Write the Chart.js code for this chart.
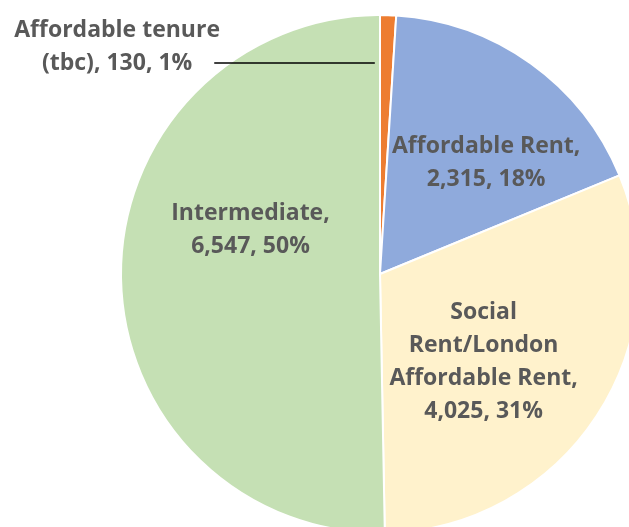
<!DOCTYPE html>
<html lang="en">
<head>
    <meta charset="UTF-8">
    <title>Tenure split</title>
    <script src="https://cdn.jsdelivr.net/npm/chart.js@4.4.0/dist/chart.umd.min.js"></script>
    <style>
        html, body { margin: 0; padding: 0; overflow: hidden; background: #fff; }
        #wrap { position: absolute; left: 0; top: 0; width: 660px; height: 548px; }
    </style>
</head>
<body>
<div id="wrap">
    <canvas id="pie" width="660" height="548"></canvas>
</div>
<script>
// data
var tenures = ['Affordable tenure (tbc)', 'Affordable Rent', 'Social Rent/London Affordable Rent', 'Intermediate'];
var units = [130, 2315, 4025, 6547];
var shares = ['1%', '18%', '31%', '50%'];
var colours = ['#ED7D31', '#8FAADC', '#FFF2CC', '#C5E0B4'];

// label text lines for each slice (wrapped like the original)
var labelLines = [
    ['Affordable tenure', '(tbc), 130, 1%'],
    ['Affordable Rent,', '2,315, 18%'],
    ['Social', 'Rent/London', 'Affordable Rent,', '4,025, 31%'],
    ['Intermediate,', '6,547, 50%']
];
// where each label sits, as fractions of the radius from the centre
var labelSpot = [
    {x: -1.015, y: -0.877, leader: true},
    {x: 0.41, y: -0.43},
    {x: 0.40, y: 0.34},
    {x: -0.50, y: -0.17}
];

var labelPlugin = {
    id: 'sliceLabels',
    afterDatasetsDraw: function(chart) {
        var ctx = chart.ctx;
        var meta = chart.getDatasetMeta(0);
        ctx.save();
        ctx.font = 'bold 23px "Open Sans"';
        ctx.fillStyle = '#595959';
        ctx.textAlign = 'center';
        ctx.textBaseline = 'middle';
        meta.data.forEach(function(arc, i) {
            var r = arc.outerRadius;
            var cx = arc.x + labelSpot[i].x * r;
            var cy = arc.y + labelSpot[i].y * r;
            var lines = labelLines[i];
            var lh = 33;
            var y0 = cy - (lines.length - 1) * lh / 2;
            lines.forEach(function(t, k) {
                ctx.fillText(t, cx, y0 + k * lh);
            });
            if (labelSpot[i].leader) {
                ctx.beginPath();
                ctx.strokeStyle = '#000';
                ctx.lineWidth = 1.5;
                var ly = arc.y - 0.815 * r;
                ctx.moveTo(arc.x - 0.64 * r, ly);
                ctx.lineTo(arc.x - 0.02 * r, ly);
                ctx.stroke();
            }
        });
        ctx.restore();
    }
};

var chart = new Chart(document.getElementById('pie').getContext('2d'), {
    type: 'pie',
    data: {
        labels: tenures,
        datasets: [{
            data: units,
            backgroundColor: colours,
            borderColor: '#ffffff',
            borderWidth: 2
        }]
    },
    options: {
        responsive: false,
        animation: false,
        devicePixelRatio: 1,
        layout: { padding: { left: 120, right: 20, top: 14, bottom: 14 } },
        plugins: {
            legend: { display: false },
            tooltip: { enabled: false }
        }
    },
    plugins: [labelPlugin]
});
</script>
</body>
</html>
